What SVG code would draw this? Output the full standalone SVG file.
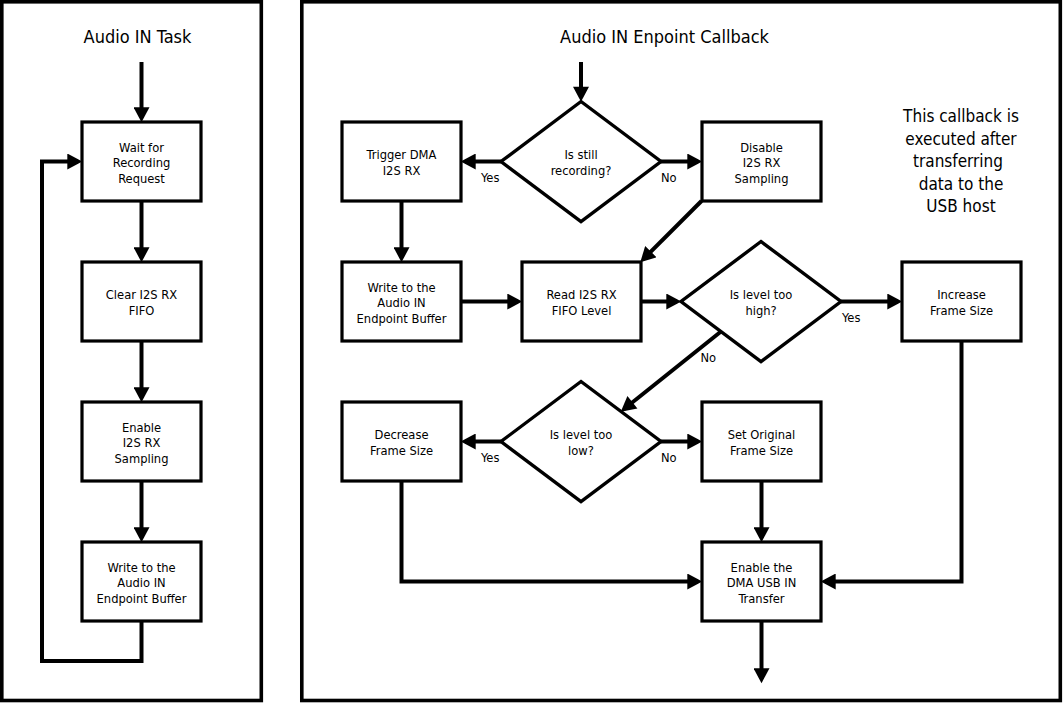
<svg xmlns="http://www.w3.org/2000/svg" width="1064" height="704" viewBox="0 0 1064 704">
<style>
.panel{fill:none;stroke:#000;stroke-width:3.6}
.box{fill:#fff;stroke:#000;stroke-width:3.2}
.dia{fill:#fff;stroke:#000;stroke-width:3.4}
.t{font-family:'DejaVu Sans Condensed','DejaVu Sans',sans-serif;font-stretch:condensed;font-size:12.8px;fill:#000;text-anchor:middle}
.lbl{font-family:'DejaVu Sans Condensed','DejaVu Sans',sans-serif;font-stretch:condensed;font-size:12.8px;fill:#000}
.title{font-family:'DejaVu Sans Condensed','DejaVu Sans',sans-serif;font-stretch:condensed;font-size:18px;fill:#000;text-anchor:middle}
.note{font-family:'DejaVu Sans Condensed','DejaVu Sans',sans-serif;font-stretch:condensed;font-size:17px;fill:#000;text-anchor:middle}
.c{fill:none;stroke:#000;stroke-width:4;marker-end:url(#ah)}
.cn{fill:none;stroke:#000;stroke-width:4}
</style>
<defs>
<marker id="ah" markerUnits="userSpaceOnUse" markerWidth="16" markerHeight="16" viewBox="0 0 14 15" refX="10" refY="7.5" orient="auto">
<path d="M0,0 L14,7.5 L0,15 Z" fill="#000"/>
</marker>
</defs>
<rect width="1064" height="704" fill="#fff"/>
<g id="panels">
<rect class="panel" x="1.8" y="1.8" width="259.5" height="698.7"/>
<rect class="panel" x="301.8" y="1.8" width="758.5" height="698.7"/>
<text class="title" x="137.5" y="42.5">Audio IN Task</text>
<text class="title" x="664.5" y="42.5">Audio IN Enpoint Callback</text>
<text class="note" x="961" y="122">This callback is</text>
<text class="note" x="961" y="144.5">executed after</text>
<text class="note" x="958" y="167">transferring</text>
<text class="note" x="961" y="189.5">data to the</text>
<text class="note" x="961" y="212">USB host</text>
</g>
<g id="connectors">
<path class="c" d="M141.5,62 V118"/>
<path class="c" d="M141.5,201 V258"/>
<path class="c" d="M141.5,341 V398"/>
<path class="c" d="M141.5,481 V538"/>
<path class="c" d="M141.5,621 V661 H42 V161.5 H78"/>
<path class="c" d="M581,62 V97.5"/>
<path class="c" d="M501,161.5 H465"/>
<path class="c" d="M661,161.5 H698"/>
<path class="c" d="M401.5,201 V258"/>
<path class="c" d="M701.5,201 L643.3,259.2"/>
<path class="c" d="M461,301.5 H518"/>
<path class="c" d="M641,301.5 H677"/>
<path class="c" d="M841,301.5 H898"/>
<path class="c" d="M721,331.5 L624.1,409"/>
<path class="c" d="M501,441.5 H465"/>
<path class="c" d="M661,441.5 H698"/>
<path class="c" d="M761.5,481 V538"/>
<path class="c" d="M401.5,481 V581.5 H698"/>
<path class="c" d="M961.5,341 V581.5 H825"/>
<path class="c" d="M761.5,621 V679"/>
<text class="lbl" x="481" y="181.7">Yes</text>
<text class="lbl" x="661" y="181.7">No</text>
<text class="lbl" x="842" y="321.7">Yes</text>
<text class="lbl" x="700.5" y="361.7">No</text>
<text class="lbl" x="481" y="461.7">Yes</text>
<text class="lbl" x="661" y="461.7">No</text>
</g>
<g id="wait">
<rect class="box" x="82" y="122" width="119" height="79"/>
<text class="t" x="141.5" y="151.5">Wait for</text>
<text class="t" x="141.5" y="167">Recording</text>
<text class="t" x="141.5" y="182.5">Request</text>
</g>
<g id="clear">
<rect class="box" x="82" y="262" width="119" height="79"/>
<text class="t" x="141.5" y="298.5">Clear I2S RX</text>
<text class="t" x="141.5" y="315">FIFO</text>
</g>
<g id="enable">
<rect class="box" x="82" y="402" width="119" height="79"/>
<text class="t" x="141.5" y="431.5">Enable</text>
<text class="t" x="141.5" y="447">I2S RX</text>
<text class="t" x="141.5" y="462.5">Sampling</text>
</g>
<g id="write-left">
<rect class="box" x="82" y="542" width="119" height="79"/>
<text class="t" x="141.5" y="571.5">Write to the</text>
<text class="t" x="141.5" y="587">Audio IN</text>
<text class="t" x="141.5" y="602.5">Endpoint Buffer</text>
</g>
<g id="still-recording">
<polygon class="dia" points="581,101.5 661,161.5 581,221.5 501,161.5"/>
<text class="t" x="581" y="159">Is still</text>
<text class="t" x="581" y="175">recording?</text>
</g>
<g id="trigger">
<rect class="box" x="342" y="122" width="119" height="79"/>
<text class="t" x="401.5" y="159">Trigger DMA</text>
<text class="t" x="401.5" y="175">I2S RX</text>
</g>
<g id="disable">
<rect class="box" x="702" y="122" width="119" height="79"/>
<text class="t" x="761.5" y="151.5">Disable</text>
<text class="t" x="761.5" y="167">I2S RX</text>
<text class="t" x="761.5" y="182.5">Sampling</text>
</g>
<g id="write-right">
<rect class="box" x="342" y="262" width="119" height="79"/>
<text class="t" x="401.5" y="291.5">Write to the</text>
<text class="t" x="401.5" y="307">Audio IN</text>
<text class="t" x="401.5" y="322.5">Endpoint Buffer</text>
</g>
<g id="read">
<rect class="box" x="522" y="262" width="119" height="79"/>
<text class="t" x="581.5" y="298.5">Read I2S RX</text>
<text class="t" x="581.5" y="315">FIFO Level</text>
</g>
<g id="too-high">
<polygon class="dia" points="761,241.5 841,301.5 761,361.5 681,301.5"/>
<text class="t" x="761" y="299">Is level too</text>
<text class="t" x="761" y="315">high?</text>
</g>
<g id="increase">
<rect class="box" x="902" y="262" width="119" height="79"/>
<text class="t" x="961.5" y="298.5">Increase</text>
<text class="t" x="961.5" y="315">Frame Size</text>
</g>
<g id="too-low">
<polygon class="dia" points="581,381.5 661,441.5 581,501.5 501,441.5"/>
<text class="t" x="581" y="439">Is level too</text>
<text class="t" x="581" y="455">low?</text>
</g>
<g id="decrease">
<rect class="box" x="342" y="402" width="119" height="79"/>
<text class="t" x="401.5" y="438.5">Decrease</text>
<text class="t" x="401.5" y="455">Frame Size</text>
</g>
<g id="set-original">
<rect class="box" x="702" y="402" width="119" height="79"/>
<text class="t" x="761.5" y="438.5">Set Original</text>
<text class="t" x="761.5" y="455">Frame Size</text>
</g>
<g id="enable-dma">
<rect class="box" x="702" y="542" width="119" height="79"/>
<text class="t" x="761.5" y="571.5">Enable the</text>
<text class="t" x="761.5" y="587">DMA USB IN</text>
<text class="t" x="761.5" y="602.5">Transfer</text>
</g>
</svg>
